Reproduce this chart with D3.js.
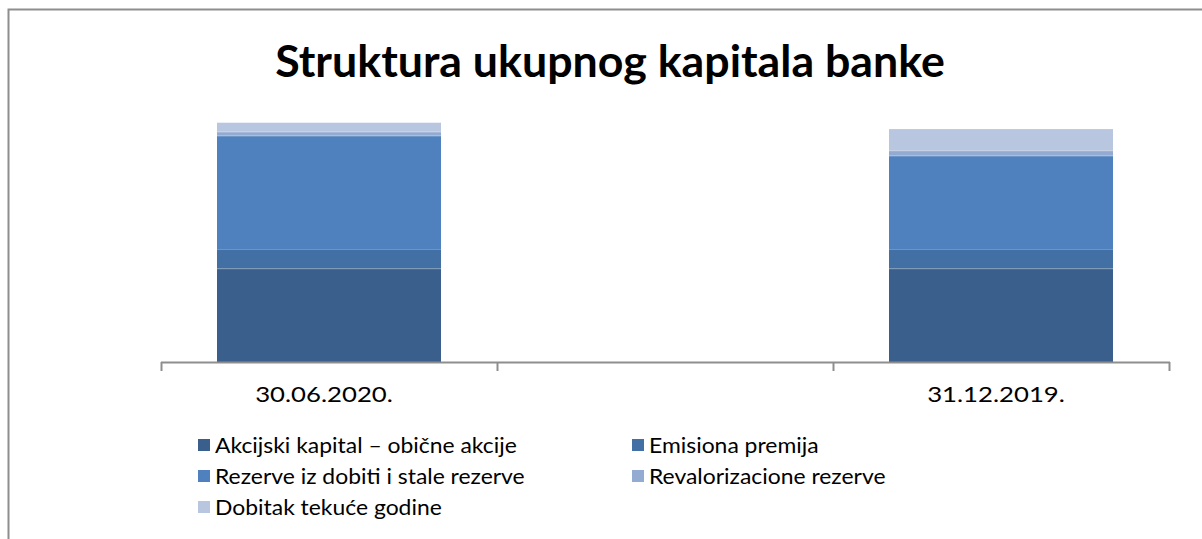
<!DOCTYPE html>
<html>
<head>
<meta charset="utf-8">
<script src="https://cdn.jsdelivr.net/npm/d3@7"></script>
<style>
  body { margin: 0; background: #fff; }
  svg { display: block; }
  text { font-family: Lato, "Open Sans", sans-serif; fill: #000; }
</style>
</head>
<body>
<div id="chart"></div>
<script>
// categories (middle slot is empty in the original chart)
const categories = ["30.06.2020.", "", "31.12.2019."];

const seriesNames = [
  "Akcijski kapital – obične akcije",
  "Emisiona premija",
  "Rezerve iz dobiti i stale rezerve",
  "Revalorizacione rezerve",
  "Dobitak tekuće godine"
];

// values per series, one per category (arbitrary units)
const akcijski = [937, 0, 937];
const emisiona = [193, 0, 193];
const rezerve = [1133, 0, 933];
const revalorizacione = [40, 0, 53];
const dobitak = [90, 0, 213];

const colors = ["#3b5f8d", "#4370a4", "#4e81bd", "#93aad1", "#b9c6e0"];

const width = 1202, height = 539;

const svg = d3.select("#chart").append("svg")
    .attr("width", width)
    .attr("height", height);

// outer frame (runs off right and bottom like the source)
svg.append("rect")
    .attr("x", 8.5).attr("y", 9.5)
    .attr("width", 1300).attr("height", 600)
    .attr("fill", "none")
    .attr("stroke", "#8e8e8e")
    .attr("stroke-width", 2);

// title
const title = svg.append("text")
    .attr("x", 610).attr("y", 77)
    .attr("text-anchor", "middle")
    .style("font-weight", "bold")
    .style("font-size", "40px")
    .text("Struktura ukupnog kapitala banke");
fitWidth(title, 670);

// scales
const x = d3.scaleBand()
    .domain(d3.range(categories.length))
    .range([161, 1169])
    .paddingInner(1 / 3)
    .paddingOuter(1 / 6);

const y = d3.scaleLinear()
    .domain([0, 2500])
    .range([362, 112]);

const table = categories.map((c, i) => ({
  i: i,
  s0: akcijski[i], s1: emisiona[i], s2: rezerve[i], s3: revalorizacione[i], s4: dobitak[i]
}));
const keys = ["s0", "s1", "s2", "s3", "s4"];
const stacked = d3.stack().keys(keys)(table);

const layers = svg.selectAll(".layer")
    .data(stacked)
    .enter().append("g")
    .attr("class", "layer")
    .attr("fill", (d, k) => colors[k]);

layers.selectAll("rect")
    .data(d => d.filter(p => p[1] - p[0] > 0))
    .enter().append("rect")
    .attr("x", d => x(d.data.i))
    .attr("y", d => y(d[1]))
    .attr("width", x.bandwidth())
    .attr("height", d => y(d[0]) - y(d[1]));

// faint separators between segments
layers.selectAll("line")
    .data(d => d.filter(p => p[1] - p[0] > 0 && p[0] > 0))
    .enter().append("line")
    .attr("x1", d => x(d.data.i))
    .attr("x2", d => x(d.data.i) + x.bandwidth())
    .attr("y1", d => y(d[0]) + 0.5)
    .attr("y2", d => y(d[0]) + 0.5)
    .attr("stroke", "#ffffff")
    .attr("stroke-opacity", 0.25)
    .attr("stroke-width", 1);

// category axis with ticks at band boundaries
const step = x.step();
const axisG = svg.append("g");
axisG.append("line")
    .attr("x1", 161).attr("x2", 1170)
    .attr("y1", 362.5).attr("y2", 362.5)
    .attr("stroke", "#8e8e8e").attr("stroke-width", 2);
const bounds = d3.range(categories.length + 1).map(k => 161 + k * step);
axisG.selectAll(".tick")
    .data(bounds)
    .enter().append("line")
    .attr("x1", d => Math.round(d) + 0.5)
    .attr("x2", d => Math.round(d) + 0.5)
    .attr("y1", 362).attr("y2", 371)
    .attr("stroke", "#8e8e8e").attr("stroke-width", 2);

axisG.selectAll(".cat")
    .data(categories)
    .enter().append("text")
    .attr("x", (d, i) => x(i) + x.bandwidth() / 2 - 5)
    .attr("y", 402)
    .attr("text-anchor", "middle")
    .style("font-size", "22px")
    .text(d => d)
    .each(function() { stretch(this, 1.17); });

// legend
const legendPos = [
  [198, 446], [632, 446],
  [198, 477], [632, 477],
  [198, 508]
];
const legend = svg.selectAll(".legend")
    .data(seriesNames)
    .enter().append("g")
    .attr("class", "legend")
    .attr("transform", (d, i) => "translate(" + legendPos[i][0] + "," + legendPos[i][1] + ")");

legend.append("rect")
    .attr("x", 0).attr("y", -7)
    .attr("width", 12).attr("height", 12)
    .attr("fill", (d, i) => colors[i]);

legend.append("text")
    .attr("x", 17).attr("y", 7)
    .style("font-size", "21px")
    .text(d => d)
    .each(function() { stretch(this, 1.09); });

function fitWidth(sel, target) {
  const node = sel.node();
  const fs = parseFloat(sel.style("font-size"));
  const w = node.getComputedTextLength();
  if (w > 0) sel.style("font-size", (fs * target / w).toFixed(1) + "px");
}

// widen text horizontally, keeping its height
function stretch(node, k) {
  const w = node.getComputedTextLength();
  if (w > 0) {
    node.setAttribute("textLength", (w * k).toFixed(1));
    node.setAttribute("lengthAdjust", "spacingAndGlyphs");
  }
}
</script>
</body>
</html>
